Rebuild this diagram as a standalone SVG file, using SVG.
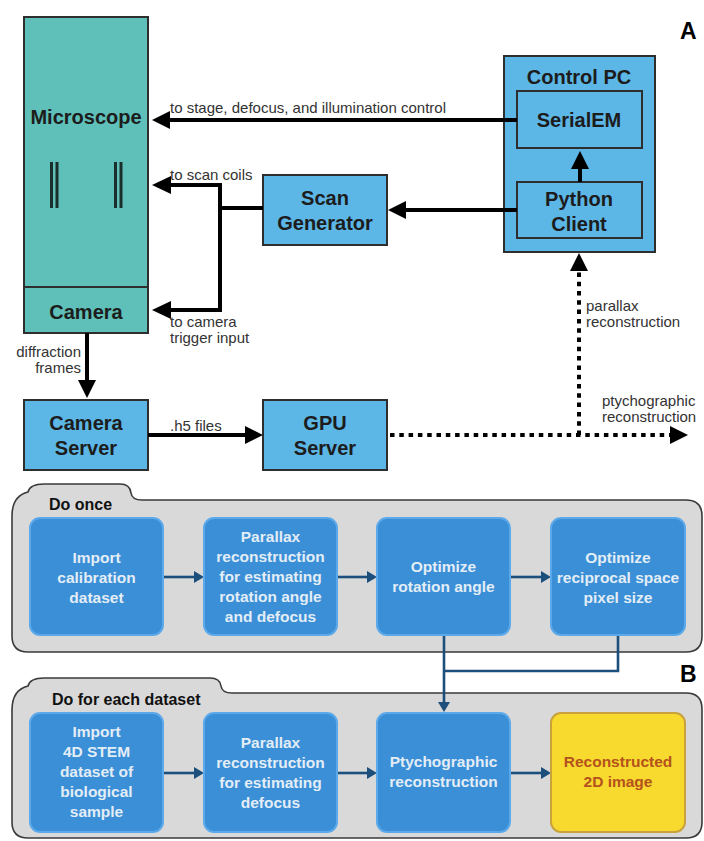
<svg xmlns="http://www.w3.org/2000/svg" width="704" height="841" viewBox="0 0 704 841">
  <style>
    .hw { font-family: "Liberation Sans", Arial, sans-serif; }
    .big { font-size: 20px; font-weight: bold; fill: #1c1c1c; text-anchor: middle; }
    .lbl { font-size: 15px; fill: #333; }
    .teal { fill: #5fc0b9; stroke: #2e2e2e; stroke-width: 2; }
    .sky { fill: #5cb6e6; stroke: #2e2e2e; stroke-width: 2; }
    .wire { fill: none; stroke: #000; stroke-width: 4; }
    .dots { fill: none; stroke: #000; stroke-width: 4; stroke-dasharray: 4.5 4.8; }
    .panel { fill: #d9d9d9; stroke: #3a3a3a; stroke-width: 1.6; }
    .step { fill: #3a8fd6; stroke: #5ba9ea; stroke-width: 2; }
    .steptxt { font-size: 15.5px; font-weight: bold; fill: #e3edf6; text-anchor: middle; }
    .result { fill: #b4521d; }
    .flow { fill: none; stroke: #1d4f7c; stroke-width: 2.6; }
    .tab { font-size: 16px; font-weight: bold; fill: #111; }
    .letter { font-size: 23px; font-weight: bold; fill: #000; }
  </style>
  <defs>
    <marker id="head" viewBox="0 0 18 18" refX="0" refY="9" markerWidth="18" markerHeight="18" markerUnits="userSpaceOnUse" orient="auto">
      <path d="M0,0 L18,9 L0,18 Z" fill="#000"/>
    </marker>
    <marker id="bhead" viewBox="0 0 10 12" refX="0" refY="6" markerWidth="10" markerHeight="12" markerUnits="userSpaceOnUse" orient="auto">
      <path d="M0,0 L10,6 L0,12 Z" fill="#1d4f7c"/>
    </marker>
  </defs>

  <rect width="704" height="841" fill="#fff"/>

  <!-- Panel A: hardware setup -->
  <g id="microscope">
    <rect class="teal" x="24" y="17" width="124" height="316"/>
    <line x1="24" y1="287" x2="148" y2="287" stroke="#2e2e2e" stroke-width="2"/>
    <text class="hw big" x="86" y="124">Microscope</text>
    <!-- lens symbols -->
    <g fill="#1a2e2c">
      <rect x="50" y="162" width="3" height="46"/>
      <rect x="55.5" y="162" width="3" height="46"/>
      <rect x="114" y="162" width="3" height="46"/>
      <rect x="119.5" y="162" width="3" height="46"/>
    </g>
  </g>
  <g id="camera">
    <text class="hw big" x="86" y="319">Camera</text>
  </g>

  <g id="control-pc">
    <rect class="sky" x="504" y="56" width="151" height="196"/>
    <text class="hw big" x="579" y="84">Control PC</text>
  </g>
  <g id="serialem">
    <rect class="sky" x="517" y="91" width="125" height="57"/>
    <text class="hw big" x="579" y="127">SerialEM</text>
  </g>
  <g id="python-client">
    <rect class="sky" x="517" y="182" width="125" height="56"/>
    <text class="hw big" x="579" y="206">Python</text>
    <text class="hw big" x="579" y="231">Client</text>
  </g>
  <g id="scan-generator">
    <rect class="sky" x="263" y="175" width="124" height="70"/>
    <text class="hw big" x="325" y="205">Scan</text>
    <text class="hw big" x="325" y="230">Generator</text>
  </g>
  <g id="camera-server">
    <rect class="sky" x="24" y="400" width="124" height="70"/>
    <text class="hw big" x="86" y="430">Camera</text>
    <text class="hw big" x="86" y="455">Server</text>
  </g>
  <g id="gpu-server">
    <rect class="sky" x="263" y="400" width="124" height="70"/>
    <text class="hw big" x="325" y="430">GPU</text>
    <text class="hw big" x="325" y="455">Server</text>
  </g>

  <g id="hardware-links">
    <line class="wire" x1="517" y1="120" x2="170" y2="120" marker-end="url(#head)"/>
    <line class="wire" x1="580" y1="182" x2="580" y2="169" marker-end="url(#head)"/>
    <line class="wire" x1="517" y1="210" x2="406" y2="210" marker-end="url(#head)"/>
    <polyline class="wire" points="263,208 220,208"/>
    <!-- scan generator fans out to scan coils and camera trigger -->
    <polyline class="wire" points="170,185 220,185 220,310 170,310"/>
    <path d="M171,176 L152,185 L171,194 Z" fill="#000"/>
    <path d="M171,301 L152,310 L171,319 Z" fill="#000"/>
    <line class="wire" x1="87" y1="333" x2="87" y2="380" marker-end="url(#head)"/>
    <line class="wire" x1="148" y1="435" x2="245" y2="435" marker-end="url(#head)"/>
    <line class="dots" x1="390" y1="435" x2="670" y2="435" marker-end="url(#head)"/>
    <line class="dots" x1="579" y1="435" x2="579" y2="271" marker-end="url(#head)"/>

    <text class="hw lbl" x="170" y="113">to stage, defocus, and illumination control</text>
    <text class="hw lbl" x="170" y="180">to scan coils</text>
    <text class="hw lbl" x="170" y="327">to camera</text>
    <text class="hw lbl" x="170" y="343">trigger input</text>
    <text class="hw lbl" x="81" y="357" text-anchor="end">diffraction</text>
    <text class="hw lbl" x="81" y="373" text-anchor="end">frames</text>
    <text class="hw lbl" x="170" y="431">.h5 files</text>
    <text class="hw lbl" x="586" y="311">parallax</text>
    <text class="hw lbl" x="586" y="327">reconstruction</text>
    <text class="hw lbl" x="602" y="406">ptychographic</text>
    <text class="hw lbl" x="602" y="422">reconstruction</text>
  </g>

  <text class="hw letter" x="680" y="39">A</text>

  <!-- Panel B: processing workflow -->
  <g id="do-once">
    <path class="panel" d="M12,516 Q12,496 28,492 Q30,484 44,484 H120 Q130,484 131,493 Q132,500 142,500 H686 Q702,500 702,516 V636 Q702,652 686,652 H28 Q12,652 12,636 Z"/>
    <text class="hw tab" x="49" y="510">Do once</text>
  </g>
  <g id="do-each">
    <path class="panel" d="M12,710 Q12,690 28,686 Q30,678 44,678 H210 Q220,678 221,686 Q222,693 232,693 H686 Q702,693 702,709 V822 Q702,838 686,838 H28 Q12,838 12,822 Z"/>
    <text class="hw tab" x="52" y="705">Do for each dataset</text>
  </g>

  <g id="workflow-links">
    <line class="flow" x1="163" y1="577" x2="194" y2="577" marker-end="url(#bhead)"/>
    <line class="flow" x1="337" y1="577" x2="367" y2="577" marker-end="url(#bhead)"/>
    <line class="flow" x1="510" y1="577" x2="541" y2="577" marker-end="url(#bhead)"/>
    <polyline class="flow" points="618,635 618,671 444,671"/>
    <line class="flow" x1="444" y1="636" x2="444" y2="702" marker-end="url(#bhead)"/>
    <line class="flow" x1="163" y1="773" x2="194" y2="773" marker-end="url(#bhead)"/>
    <line class="flow" x1="337" y1="773" x2="367" y2="773" marker-end="url(#bhead)"/>
    <line class="flow" x1="510" y1="773" x2="541" y2="773" marker-end="url(#bhead)"/>
  </g>

  <g id="import-calibration">
    <rect class="step" x="30" y="518" width="133" height="117" rx="10"/>
    <text class="hw steptxt" x="96.5" y="563">Import</text>
    <text class="hw steptxt" x="96.5" y="583">calibration</text>
    <text class="hw steptxt" x="96.5" y="603">dataset</text>
  </g>
  <g id="parallax-rotation">
    <rect class="step" x="204" y="518" width="133" height="117" rx="10"/>
    <text class="hw steptxt" x="270.5" y="542">Parallax</text>
    <text class="hw steptxt" x="270.5" y="562">reconstruction</text>
    <text class="hw steptxt" x="270.5" y="582">for estimating</text>
    <text class="hw steptxt" x="270.5" y="602">rotation angle</text>
    <text class="hw steptxt" x="270.5" y="622">and defocus</text>
  </g>
  <g id="optimize-rotation">
    <rect class="step" x="377" y="518" width="133" height="117" rx="10"/>
    <text class="hw steptxt" x="443.5" y="572">Optimize</text>
    <text class="hw steptxt" x="443.5" y="592">rotation angle</text>
  </g>
  <g id="optimize-pixel">
    <rect class="step" x="551" y="518" width="134" height="117" rx="10"/>
    <text class="hw steptxt" x="618" y="563">Optimize</text>
    <text class="hw steptxt" x="618" y="583">reciprocal space</text>
    <text class="hw steptxt" x="618" y="603">pixel size</text>
  </g>

  <g id="import-sample">
    <rect class="step" x="30" y="713" width="133" height="119" rx="10"/>
    <text class="hw steptxt" x="96.5" y="737">Import</text>
    <text class="hw steptxt" x="96.5" y="757">4D STEM</text>
    <text class="hw steptxt" x="96.5" y="777">dataset of</text>
    <text class="hw steptxt" x="96.5" y="797">biological</text>
    <text class="hw steptxt" x="96.5" y="817">sample</text>
  </g>
  <g id="parallax-defocus">
    <rect class="step" x="204" y="713" width="133" height="119" rx="10"/>
    <text class="hw steptxt" x="270.5" y="748">Parallax</text>
    <text class="hw steptxt" x="270.5" y="768">reconstruction</text>
    <text class="hw steptxt" x="270.5" y="788">for estimating</text>
    <text class="hw steptxt" x="270.5" y="808">defocus</text>
  </g>
  <g id="ptychographic">
    <rect class="step" x="377" y="713" width="133" height="119" rx="10"/>
    <text class="hw steptxt" x="443.5" y="767">Ptychographic</text>
    <text class="hw steptxt" x="443.5" y="787">reconstruction</text>
  </g>
  <g id="reconstructed-image">
    <rect x="551" y="713" width="134" height="119" rx="10" fill="#f8d92e" stroke="#caa23c" stroke-width="2"/>
    <text class="hw steptxt result" x="618" y="767">Reconstructed</text>
    <text class="hw steptxt result" x="618" y="787">2D image</text>
  </g>

  <text class="hw letter" x="680" y="682">B</text>
</svg>
